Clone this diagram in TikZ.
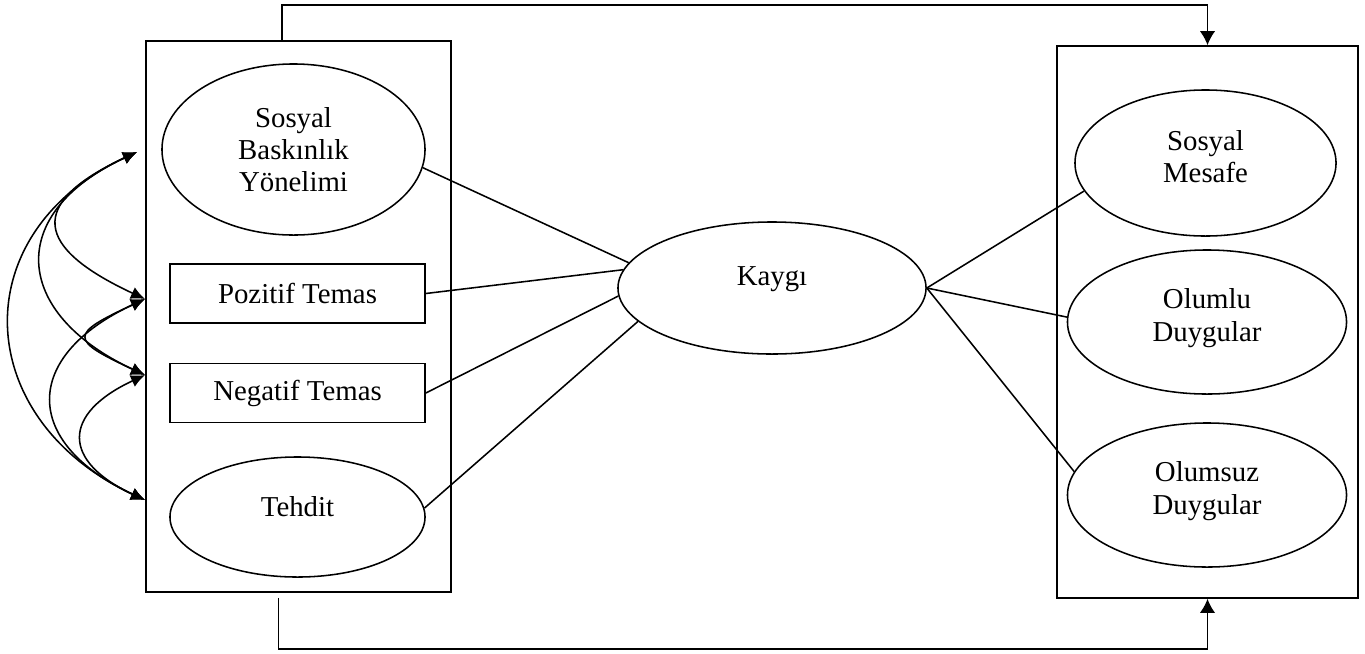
\documentclass[tikz,border=0pt]{standalone}
\usepackage{fontspec}
\setmainfont{Liberation Serif}
\usetikzlibrary{shapes.geometric, arrows.meta}
\newcommand{\lift}[1]{\rule[-#1]{0pt}{#1}}

\begin{document}
\begin{tikzpicture}[x=.025cm, y=-.025cm, line width=1.1pt,
    font=\fontsize{20.5}{23}\selectfont,
    latent/.style={draw, ellipse, inner sep=0pt, align=center},
    observed/.style={draw, rectangle, inner sep=0pt, minimum width=6.375cm, minimum height=1.475cm},
    group/.style={draw, rectangle, inner sep=0pt, minimum height=13.8cm},
    effect/.style={-{Latex[length=10pt, width=11pt]}},
    cov/.style={{Latex[length=10pt, width=9pt]}-{Latex[length=10pt, width=9pt]}}]
    \useasboundingbox (0, 0) rectangle (1365, 653);
    \node[group, minimum width=7.625cm, minimum height=13.775cm](predbox) at (298.5, 316.5){};
    \node[group, minimum width=7.525cm](outbox) at (1207.5, 322){};
    \node[latent, minimum width=6.575cm, minimum height=4.275cm](sdo) at (293.5, 149.5){Sosyal\\Baskınlık\\Yönelimi};
    \node[observed](pozitif) at (297.5, 293.5){Pozitif Temas};
    \node[observed](negatif) at (297.5, 393){Negatif Temas};
    \node[latent, minimum width=6.375cm, minimum height=3cm](tehdit) at (297.5, 517){Tehdit\lift{15.6pt}};
    \node[latent, minimum width=7.7cm, minimum height=3.3cm](kaygi) at (772, 288){Kaygı\lift{17pt}};
    \node[latent, minimum width=6.525cm, minimum height=3.65cm](mesafe) at (1205.5, 163){Sosyal\\Mesafe\lift{9pt}};
    \node[latent, minimum width=6.975cm, minimum height=3.6cm](olumlu) at (1207, 322){Olumlu\\Duygular\lift{10pt}};
    \node[latent, minimum width=6.975cm, minimum height=3.6cm](olumsuz) at (1207, 495){Olumsuz\\Duygular\lift{10pt}};
    \draw(sdo.-8)--(kaygi.170);
    \draw(pozitif.east)--(kaygi.173);
    \draw(negatif.east)--(kaygi.183);
    \draw(tehdit.4)--(kaygi.194);
    \draw(kaygi.east)--(mesafe.193);
    \draw(kaygi.east)--(olumlu.178);
    \draw(kaygi.east)--(olumsuz.170);
    \draw[effect]([xshift=-.41cm]predbox.north) |- ([yshift=1cm]outbox.north)--(outbox.north);
    \draw[effect]([xshift=-.5cm, yshift=-.125cm]predbox.south) |- ([yshift=-1.25cm]outbox.south)--(outbox.south);
    % correlations
    \coordinate(c1) at (137, 152);
    \coordinate(c2) at (145, 299);
    \coordinate(c3) at (145, 375);
    \coordinate(c4) at (145, 500);
    \foreach \a/\b/\d in {1/4/4.8, 1/3/3.65, 1/2/3.05, 2/4/3.4, 3/4/2.3, 2/3/2.1}
        \draw[cov](c\a) to[out=205, in=155, distance=\d cm] (c\b);
\end{tikzpicture}
\end{document}
